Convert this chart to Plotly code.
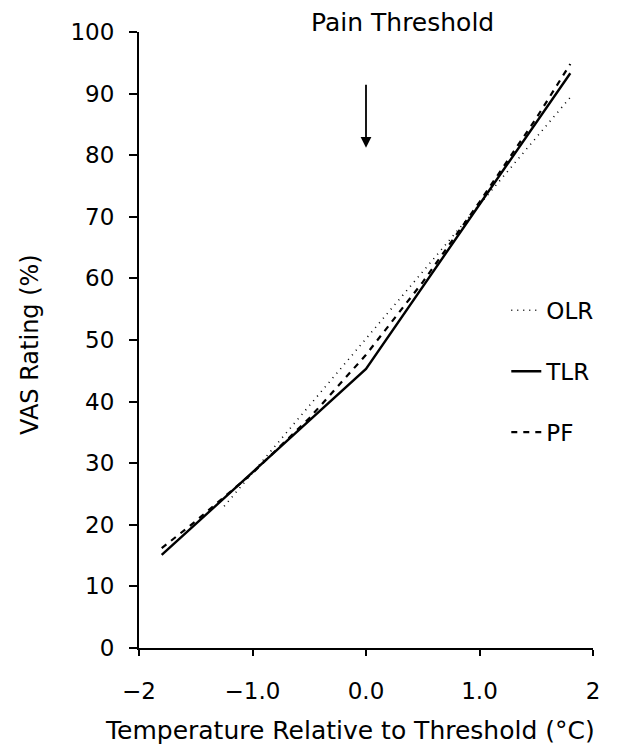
import plotly.graph_objects as go

# ---- data ----
olr_x = [-1.25, 1.8]
olr_y = [23.0, 89.4]

tlr_x = [-1.8, -1.0, 0.0, 1.0, 1.8]
tlr_y = [15.1, 28.5, 45.3, 72.0, 93.3]

pf_x = [-1.8, -1.5, -1.0, -0.5, 0.0, 0.5, 1.0, 1.5, 1.8]
pf_y = [16.2, 20.6, 28.4, 37.3, 47.6, 59.4, 72.4, 86.0, 94.8]

x_ticks = [-2, -1, 0, 1, 2]
x_ticklabels = ["\u22122", "\u22121.0", "0.0", "1.0", "2"]
y_ticks = [0, 10, 20, 30, 40, 50, 60, 70, 80, 90, 100]

FONT = "DejaVu Sans"

fig = go.Figure()
fig.add_trace(go.Scatter(x=olr_x, y=olr_y, mode="lines", name="OLR",
                         legendgroup="a",
                         line=dict(color="black", width=1.6, dash="1px,5px")))
fig.add_trace(go.Scatter(x=tlr_x, y=tlr_y, mode="lines", name="TLR",
                         legendgroup="b",
                         line=dict(color="black", width=2.4)))
fig.add_trace(go.Scatter(x=pf_x, y=pf_y, mode="lines", name="PF",
                         legendgroup="c",
                         line=dict(color="black", width=2.2, dash="6px,6px")))

fig.update_layout(
    width=614, height=740,
    margin=dict(l=131, r=29, t=24, b=100),
    paper_bgcolor="white", plot_bgcolor="white",
    font=dict(family=FONT, size=22, color="black"),
    showlegend=True,
    legend=dict(x=0.809, y=0.583, xanchor="left", yanchor="top",
                bgcolor="rgba(0,0,0,0)", itemwidth=30,
                tracegroupgap=28, traceorder="grouped",
                font=dict(family=FONT, size=23, color="black")),
)

fig.update_xaxes(range=[-2, 2], tickvals=x_ticks, ticktext=x_ticklabels,
                 showgrid=False, zeroline=False, showline=True,
                 linecolor="black", linewidth=2, ticks="outside",
                 ticklen=6, tickwidth=2, tickcolor="black",
                 ticklabelstandoff=15,
                 tickfont=dict(family=FONT, size=23, color="black"))
fig.update_yaxes(range=[0, 100], tickvals=y_ticks,
                 showgrid=False, zeroline=False, showline=True,
                 linecolor="black", linewidth=2, ticks="outside",
                 ticklen=8, tickwidth=2, tickcolor="black",
                 ticklabelstandoff=10,
                 tickfont=dict(family=FONT, size=23, color="black"))

# axis titles as annotations
fig.add_annotation(text="Temperature Relative to Threshold (\u00b0C)",
                   xref="paper", yref="paper", x=0.465, y=-0.134,
                   xanchor="center", yanchor="middle", showarrow=False,
                   font=dict(family=FONT, size=25, color="black"))
fig.add_annotation(text="VAS Rating (%)", textangle=-90,
                   xref="paper", yref="paper", x=-0.240, y=0.492,
                   xanchor="center", yanchor="middle", showarrow=False,
                   font=dict(family=FONT, size=24, color="black"))

# pain threshold label and arrow
fig.add_annotation(text="Pain Threshold", x=0.581, y=1.016,
                   xref="paper", yref="paper",
                   showarrow=False, yanchor="middle", xanchor="center",
                   font=dict(family=FONT, size=25, color="black"))
fig.add_annotation(x=0, y=81.2, ax=0, ay=91.7, xref="x", yref="y",
                   axref="x", ayref="y", text="", showarrow=True,
                   arrowhead=2, arrowsize=1.2, arrowwidth=1.8,
                   arrowcolor="black")

fig.write_html("out.html")
